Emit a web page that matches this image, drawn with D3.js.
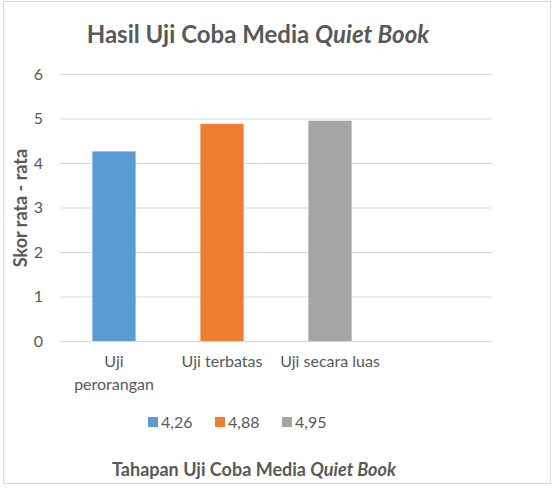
<!DOCTYPE html>
<html>
<head>
<meta charset="utf-8">
<script src="https://cdn.jsdelivr.net/npm/d3@7"></script>
<style>
  body { margin: 0; background: #fff; }
  text { font-family: Lato, "Open Sans", sans-serif; fill: #595959; }
</style>
</head>
<body>
<div id="chart"></div>
<script>
// data van de grafiek
const categories = ["Uji perorangan", "Uji terbatas", "Uji secara luas", ""];
const categoryLines = [["Uji", "perorangan"], ["Uji terbatas"], ["Uji secara luas"], [""]];
const values = [4.26, 4.88, 4.95];
const legendLabels = ["4,26", "4,88", "4,95"];
const colors = ["#5B9BD5", "#ED7D31", "#A5A5A5"];
const yTicks = [0, 1, 2, 3, 4, 5, 6];

const width = 559;
const height = 494;
const margin = {top: 74, bottom: 153, right: 67, left: 60};
const innerW = width - margin.left - margin.right;
const innerH = height - margin.top - margin.bottom;

const svg = d3.select("#chart")
  .append("svg")
    .attr("width", width)
    .attr("height", height);

// rand om de hele grafiek
svg.append("rect")
    .attr("x", 3.5).attr("y", 1.5)
    .attr("width", 547).attr("height", 482)
    .attr("fill", "#fff")
    .attr("stroke", "#D9D9D9")
    .attr("stroke-width", 1);

const g = svg.append("g")
    .attr("transform", "translate(" + margin.left + "," + margin.top + ")");

const xScale = d3.scaleBand()
    .domain(categories)
    .range([0, innerW]);

const yScale = d3.scaleLinear()
    .domain([0, 6])
    .range([innerH, 0]);

// gridlijnen
g.append("g")
  .selectAll("line")
  .data(yTicks)
  .join("line")
    .attr("x1", 0).attr("x2", innerW)
    .attr("y1", d => yScale(d) + 0.5).attr("y2", d => yScale(d) + 0.5)
    .attr("stroke", "#D9D9D9")
    .attr("stroke-width", 1);

// y-as labels
const yAxis = g.append("g")
    .call(d3.axisLeft(yScale).tickValues(yTicks).tickFormat(d3.format("d")).tickSize(0).tickPadding(17));
yAxis.select(".domain").remove();
yAxis.selectAll("text")
    .style("font-size", "16px")
    .style("fill", "#595959");

// staven
const barW = xScale.bandwidth() * 0.4;
g.selectAll(".bar")
  .data(values)
  .join("rect")
    .attr("class", "bar")
    .attr("x", (d, i) => xScale(categories[i]) + (xScale.bandwidth() - barW) / 2)
    .attr("y", d => yScale(d))
    .attr("width", barW)
    .attr("height", d => innerH - yScale(d))
    .attr("fill", (d, i) => colors[i]);

// x-as
const xAxis = g.append("g")
    .attr("transform", "translate(0," + innerH + ")")
    .call(d3.axisBottom(xScale).tickSize(0).tickPadding(15));
xAxis.select(".domain").attr("stroke", "#D9D9D9").attr("d", "M0,0.5H" + innerW);
xAxis.selectAll("text")
    .style("font-size", "16px")
    .style("fill", "#595959")
    .each(function(d, i) {
      const text = d3.select(this);
      const y = text.attr("y");
      text.text(null);
      categoryLines[i].forEach(function(line, j) {
        text.append("tspan")
            .attr("x", 0).attr("y", y)
            .attr("dy", (0.71 + j * 1.4) + "em")
            .text(line);
      });
    });

// titel
const title = svg.append("text")
    .attr("x", 258).attr("y", 43)
    .attr("text-anchor", "middle")
    .style("font-size", "24px")
    .style("font-weight", "bold");
title.append("tspan").text("Hasil Uji Coba Media ");
title.append("tspan").style("font-style", "italic").text("Quiet Book");

// y-as titel
svg.append("text")
    .attr("transform", "translate(27,208) rotate(-90)")
    .attr("text-anchor", "middle")
    .style("font-size", "18px")
    .style("font-weight", "bold")
    .text("Skor rata - rata");

// x-as titel
const xTitle = svg.append("text")
    .attr("x", 254).attr("y", 476)
    .attr("text-anchor", "middle")
    .style("font-size", "18px")
    .style("font-weight", "bold");
xTitle.append("tspan").text("Tahapan Uji Coba Media ");
xTitle.append("tspan").style("font-style", "italic").text("Quiet Book");

// legenda
const legendX = [148, 215, 282];
const legend = svg.append("g")
  .selectAll("g")
  .data(legendLabels)
  .join("g")
    .attr("transform", (d, i) => "translate(" + legendX[i] + ",417)");
legend.append("rect")
    .attr("width", 10).attr("height", 10)
    .attr("fill", (d, i) => colors[i]);
legend.append("text")
    .attr("x", 13).attr("y", 11)
    .style("font-size", "16px")
    .text(d => d);
</script>
</body>
</html>
